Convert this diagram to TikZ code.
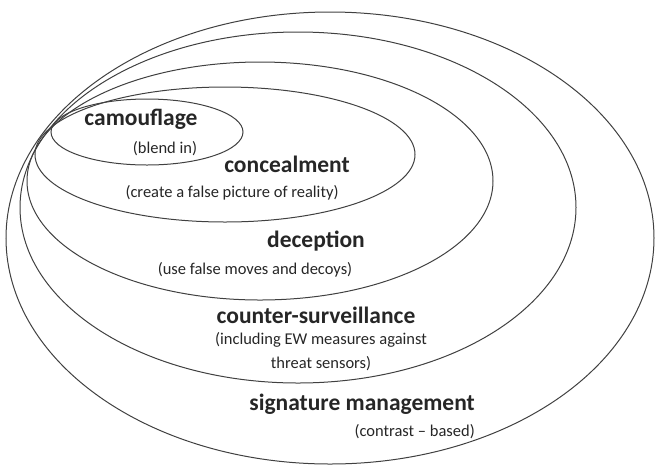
\documentclass[tikz,border=0pt]{standalone}
\usepackage{fontspec}
\setmainfont{Carlito}
\usetikzlibrary{positioning}
\tikzset{
  ring/.style={draw=black!75, line width=1pt},
  head/.style={font=\bfseries\fontsize{23.5}{26}\selectfont, inner sep=0pt, text=black!85},
  note/.style={font=\fontsize{16.5}{24}\selectfont, inner sep=0pt, text=black!85},
}

\begin{document}
\begin{tikzpicture}[x=1pt, y=-1pt]
  \useasboundingbox (0,0) rectangle (656,467);
  % nested rings, outermost first
  \draw[ring] (330,238) ellipse [x radius=324, y radius=226];
  \draw[ring] (298,207.5) ellipse [x radius=278, y radius=175.5];
  \draw[ring] (260,181) ellipse [x radius=233, y radius=119];
  \draw[ring] (225,154.5) ellipse [x radius=190, y radius=67.5];
  \draw[ring] (147,132) ellipse [x radius=96, y radius=33];

  % labels
  \node[head] (cam) at (141,119) {camouflage};
  \node[note] (camn) at (165,149) {(blend in)};
  \node[head] (con) at (287,164) {concealment};
  \node[note] (conn) at (232,193) {(create a false picture of reality)};
  \node[head] (dec) at (316,241) {deception};
  \node[note] (decn) at (255,270) {(use false moves and decoys)};
  \node[head] (cs) at (316,315) {counter-surveillance};
  \node[note, align=center] (csn) at (321,352) {(including EW measures against\\threat sensors)\hspace{46pt}};
  \node[head, anchor=east] (sig) at (475,404) {signature management};
  \node[note, anchor=east] (sign) at (475,432) {(contrast -- based)};
\end{tikzpicture}
\end{document}
